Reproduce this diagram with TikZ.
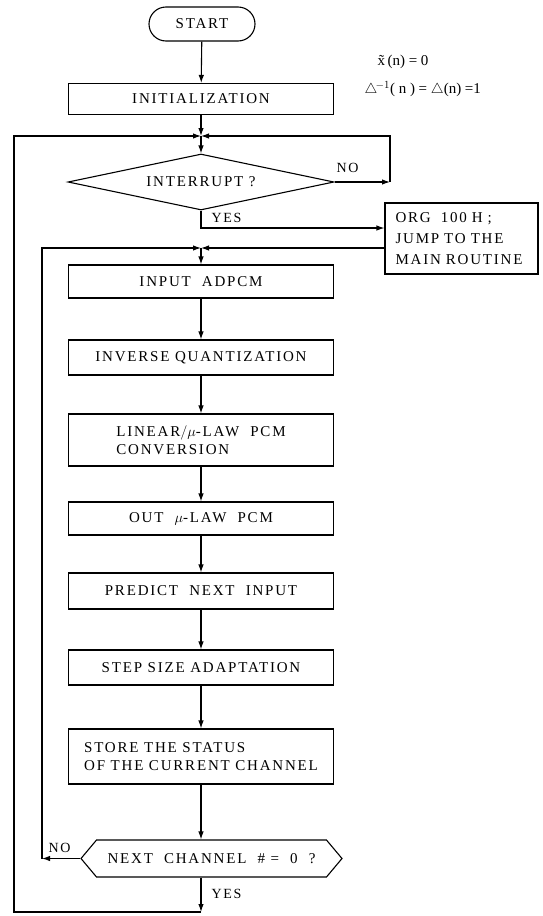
\documentclass[tikz,border=0pt]{standalone}
\usepackage{fontspec}
\setmainfont{Liberation Serif}
\newfontfamily\lbl{Liberation Serif}[LetterSpace=12]
\usetikzlibrary{arrows.meta,shapes.geometric,shapes.misc,shapes.symbols}
\begin{document}
\begin{tikzpicture}[x=1pt,y=-1pt,line width=1.1pt,
  txt/.style={font=\lbl\fontsize{15}{18}\selectfont},
  box/.style={draw,rectangle,minimum width=265pt,inner sep=0pt,txt},
  arr/.style={-{Latex[length=8pt,width=5.5pt]}},
  lab/.style={font=\lbl\fontsize{14}{16}\selectfont,inner sep=0pt,anchor=west}]
\useasboundingbox (0,0) rectangle (543,916);
% nodes
\node[draw,rounded rectangle,minimum width=106pt,minimum height=34pt,inner sep=0pt,txt] (start) at (202,24) {START};
\node[box,minimum height=31pt] (init) at (201,99) {INITIALIZATION};
\coordinate (j1) at (201,136);
\node[draw,diamond,aspect=4.75,minimum width=266pt,minimum height=56pt,inner sep=0pt,txt] (intr) at (201,182) {INTERRUPT ?};
\coordinate (nocorner) at (390,182);
\coordinate (yescorner) at (201,228);
\node[draw,rectangle,minimum width=153pt,minimum height=71pt,inner sep=0pt,text width=132pt,align=left,txt] (org) at (461.5,238.5) {ORG\ \ 100 H ;\\[3pt]JUMP TO THE\\[3pt]MAIN ROUTINE};
\coordinate (j2) at (201,248);
\node[box,minimum height=33pt] (inp) at (201,281.5) {INPUT\ \ ADPCM};
\node[box,minimum height=35pt] (invq) at (201,357.5) {INVERSE QUANTIZATION};
\node[box,minimum height=52pt,align=left] (lin) at (201,440) {LINEAR$/\mu$-LAW\ \ PCM\\CONVERSION};
\node[box,minimum height=33pt] (out) at (201,518.5) {OUT\ \ $\mu$-LAW\ \ PCM};
\node[box,minimum height=36pt] (pred) at (201,591) {PREDICT\ \ NEXT\ \ INPUT};
\node[box,minimum height=35pt] (step) at (201,667.5) {STEP\ SIZE\ ADAPTATION};
\node[box,minimum height=55pt,align=left] (store) at (201,756.5) {STORE THE STATUS\\OF THE CURRENT CHANNEL};
\node[draw,signal,signal to=west and east,signal pointer angle=100,minimum width=261pt,minimum height=37pt,inner sep=0pt,txt] (nxt) at (211.5,858.5) {NEXT\ \ CHANNEL\ \ \#\ =\ \ 0\ \ ?};
\coordinate (nocorner2) at (42,858.5);
\coordinate (yescorner2) at (201,912);
\coordinate (oc) at (14,912);
% labels
\node[lab] (no1) at (336,168) {NO};
\node[lab] (yes1) at (211,218) {YES};
\node[lab] (no2) at (48,848) {NO};
\node[lab] (yes2) at (211,894) {YES};
\node[anchor=west,inner sep=0pt,font=\fontsize{15}{18}\selectfont] (f1) at (377,62) {\~x\,(n) = 0};
\node[anchor=west,inner sep=0pt,font=\fontsize{15}{18}\selectfont] (f2) at (364,89) {$\triangle^{\!-1}$( n ) = $\triangle$(n)\ =1};
% connectors
\draw[arr] (start) -- (init);
\draw[arr] (init) -- (j1);
\draw[arr] (j1) -- (intr.north);
\draw[arr] (intr.east) -- (nocorner);
\draw[arr] (nocorner) |- (j1);
\draw[arr] (intr.south) -- (yescorner) -- (yescorner -| org.west);
\draw[arr] (j2 -| org.west) -- (j2);
\draw[arr] (j2) -- (inp.north);
\draw[arr] (inp) -- (invq);
\draw[arr] (invq) -- (lin);
\draw[arr] (lin) -- (out);
\draw[arr] (out) -- (pred);
\draw[arr] (pred) -- (step);
\draw[arr] (step) -- (store);
\draw[arr] (store.south) -- (store.south |- nxt.north);
\draw[arr] (nxt.west) -- (nocorner2);
\draw[arr] (nocorner2) |- (j2);
\draw[arr] (store.south |- nxt.south) -- (yescorner2);
\draw[arr] (yescorner2) -- (oc) |- (j1);
\end{tikzpicture}
\end{document}
